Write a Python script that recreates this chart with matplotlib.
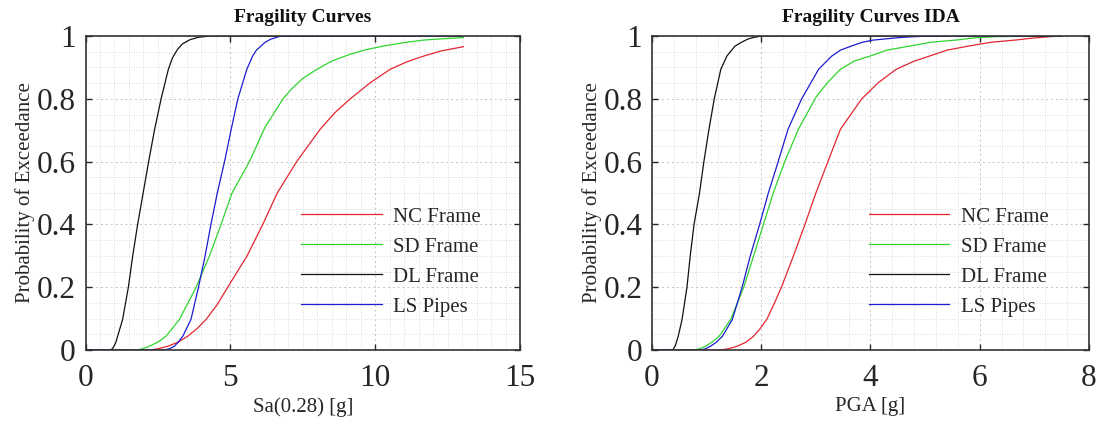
import matplotlib
matplotlib.use("Agg")
import matplotlib.pyplot as plt
from matplotlib.ticker import MultipleLocator

plt.rcParams['font.family'] = ['Liberation Serif', 'DejaVu Serif']

# ---------------- data: left panel (Sa(0.28) [g]) ----------------
sa_nc_x = [0, 2.26, 2.55, 2.84, 3.2, 3.53, 3.85, 4.16, 4.55, 4.91, 5.58, 6.12, 6.62, 7.29, 8.1, 8.6, 9.14, 9.83, 10.52, 11.1, 11.67, 12.3, 13.05]
sa_nc_y = [0, 0, 0.005, 0.012, 0.025, 0.044, 0.068, 0.097, 0.145, 0.2, 0.3, 0.4, 0.5, 0.6, 0.703, 0.755, 0.8, 0.851, 0.894, 0.918, 0.936, 0.953, 0.966]

sa_sd_x = [0, 1.8, 2.0, 2.2, 2.5, 2.78, 3.24, 3.82, 4.28, 4.68, 5.06, 5.66, 6.2, 6.82, 7.1, 7.5, 7.99, 8.5, 9.14, 9.7, 10.29, 11.0, 11.67, 12.3, 13.05]
sa_sd_y = [0, 0, 0.005, 0.012, 0.025, 0.044, 0.097, 0.2, 0.3, 0.4, 0.5, 0.6, 0.71, 0.8, 0.83, 0.865, 0.894, 0.92, 0.942, 0.957, 0.968, 0.979, 0.987, 0.991, 0.995]

sa_dl_x = [0, 0.85, 0.93, 1.0, 1.05, 1.11, 1.28, 1.48, 1.63, 1.80, 1.99, 2.18, 2.38, 2.61, 2.86, 3.0, 3.18, 3.35, 3.6, 3.75, 3.9, 4.3, 13]
sa_dl_y = [0, 0, 0.004, 0.015, 0.025, 0.044, 0.097, 0.2, 0.3, 0.4, 0.5, 0.6, 0.7, 0.8, 0.894, 0.93, 0.958, 0.975, 0.988, 0.992, 0.996, 1.0, 1.0]

sa_ls_x = [0, 2.72, 2.9, 3.07, 3.2, 3.36, 3.64, 3.90, 4.13, 4.33, 4.55, 4.80, 5.03, 5.26, 5.57, 5.77, 5.9, 6.06, 6.2, 6.4, 6.75, 13]
sa_ls_y = [0, 0, 0.004, 0.012, 0.025, 0.044, 0.097, 0.2, 0.3, 0.4, 0.5, 0.6, 0.703, 0.8, 0.894, 0.936, 0.955, 0.968, 0.98, 0.99, 1.0, 1.0]

# ---------------- data: right panel (PGA [g]) ----------------
pga_nc_x = [0, 1.26, 1.4, 1.56, 1.72, 1.86, 1.98, 2.10, 2.23, 2.37, 2.59, 2.80, 3.0, 3.22, 3.45, 3.84, 4.14, 4.47, 4.8, 5.08, 5.4, 5.80, 6.2, 6.65, 6.95, 7.3, 7.5]
pga_nc_y = [0, 0, 0.004, 0.012, 0.025, 0.044, 0.068, 0.097, 0.145, 0.2, 0.3, 0.4, 0.5, 0.6, 0.703, 0.8, 0.851, 0.894, 0.92, 0.936, 0.955, 0.968, 0.98, 0.987, 0.993, 0.998, 1.0]

pga_sd_x = [0, 0.77, 0.87, 0.98, 1.1, 1.23, 1.44, 1.68, 1.86, 2.04, 2.22, 2.43, 2.68, 3.0, 3.21, 3.45, 3.7, 3.99, 4.3, 4.72, 5.1, 5.56, 5.9, 6.3, 7.5]
pga_sd_y = [0, 0, 0.004, 0.012, 0.025, 0.044, 0.097, 0.2, 0.3, 0.4, 0.5, 0.6, 0.703, 0.805, 0.851, 0.894, 0.92, 0.936, 0.955, 0.968, 0.98, 0.987, 0.994, 0.998, 1.0]

pga_dl_x = [0, 0.38, 0.43, 0.48, 0.55, 0.64, 0.70, 0.77, 0.87, 0.95, 1.04, 1.14, 1.26, 1.37, 1.52, 1.64, 1.75, 1.85, 2.0, 7.5]
pga_dl_y = [0, 0, 0.015, 0.044, 0.097, 0.2, 0.3, 0.4, 0.5, 0.6, 0.7, 0.8, 0.894, 0.936, 0.968, 0.98, 0.99, 0.995, 1.0, 1.0]

pga_ls_x = [0, 0.89, 0.98, 1.07, 1.18, 1.29, 1.47, 1.65, 1.80, 1.97, 2.13, 2.31, 2.49, 2.74, 3.05, 3.29, 3.45, 3.65, 3.85, 4.05, 4.53, 4.8, 5.2, 7.5]
pga_ls_y = [0, 0, 0.004, 0.012, 0.025, 0.044, 0.097, 0.2, 0.3, 0.4, 0.5, 0.6, 0.703, 0.8, 0.894, 0.936, 0.955, 0.968, 0.98, 0.987, 0.995, 0.998, 1.0, 1.0]

labels = ['NC Frame', 'SD Frame', 'DL Frame', 'LS Pipes']
colors = ['#e3262f', '#2fd42f', '#111111', '#1c1ccf']

W, H = 1098, 424
fig = plt.figure(figsize=(W / 100, H / 100), dpi=100)

def make_axes(rect, series, xlim, xmajor, xminor, title, xlabel):
    ax = fig.add_axes(rect)
    for (xs, ys), lab, c in zip(series, labels, colors):
        ax.plot(xs, ys, color=c, lw=0.9, label=lab)
    ax.set_xlim(*xlim)
    ax.set_ylim(0, 1)
    ax.xaxis.set_major_locator(MultipleLocator(xmajor))
    ax.xaxis.set_minor_locator(MultipleLocator(xminor))
    ax.yaxis.set_minor_locator(MultipleLocator(0.05))
    ax.set_yticks([0, 0.2, 0.4, 0.6, 0.8, 1.0])
    ax.set_yticklabels(['0', '0.2', '0.4', '0.6', '0.8', '1'])
    ax.grid(True, which='major', color='#c4c4c4', lw=0.7, ls=(0, (2, 3)))
    ax.grid(True, which='minor', color='#cfcfcf', lw=0.6, ls=(0, (1, 2)))
    ax.set_axisbelow(True)
    ax.tick_params(which='major', direction='in', length=4, width=1.0, top=True, right=True,
                   labelsize=22.5, colors='#262626')
    ax.tick_params(axis='x', which='major', pad=10)
    ax.tick_params(axis='y', which='major', pad=7)
    ax.tick_params(which='minor', length=0, top=True, right=True)
    for s in ax.spines.values():
        s.set_color('#333333')
        s.set_linewidth(1.2)
    ax.set_title(title, fontsize=14, fontweight='bold', pad=10, color='#111111')
    ax.set_xlabel(xlabel, fontsize=15, color='#262626', labelpad=3)
    ax.set_ylabel('Probability of Exceedance', fontsize=15, color='#262626', labelpad=1)
    leg = ax.legend(loc='upper left', bbox_to_anchor=(0.497, 0.455), frameon=False,
                    fontsize=15, handlelength=3.85, handletextpad=0.55, labelspacing=0.5,
                    borderpad=0, borderaxespad=0)
    for t in leg.get_texts():
        t.set_color('#262626')
    return ax

ax1 = make_axes([85.5 / W, (H - 350) / H, 434.5 / W, 314 / H],
                [(sa_nc_x, sa_nc_y), (sa_sd_x, sa_sd_y), (sa_dl_x, sa_dl_y), (sa_ls_x, sa_ls_y)],
                (0, 15), 5, 0.5, 'Fragility Curves', 'Sa(0.28) [g]')
ax2 = make_axes([652 / W, (H - 350) / H, 437 / W, 314 / H],
                [(pga_nc_x, pga_nc_y), (pga_sd_x, pga_sd_y), (pga_dl_x, pga_dl_y), (pga_ls_x, pga_ls_y)],
                (0, 8), 2, 0.4, 'Fragility Curves IDA', 'PGA [g]')

fig.savefig('out.png', dpi=100)
